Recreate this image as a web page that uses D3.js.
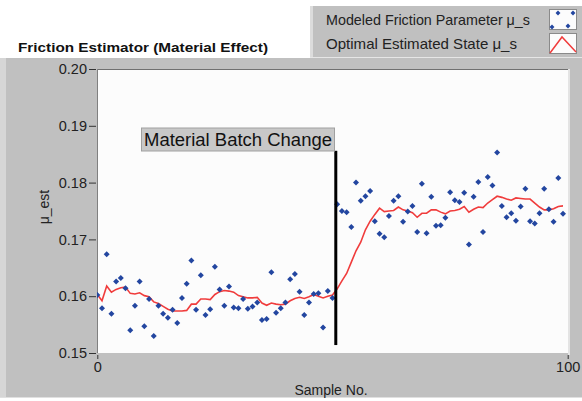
<!DOCTYPE html>
<html><head><meta charset="utf-8">
<script src="https://cdn.jsdelivr.net/npm/d3@7"></script>
<style>html,body{margin:0;padding:0;background:#fff;}svg{display:block;}</style>
</head><body>
<script>
// ---- data ----
const modeled = [
0.1602,0.1579,0.1674,0.1569,0.1626,0.1632,0.1614,0.1540,0.1583,0.1626,
0.1547,0.1595,0.1530,0.1583,0.1569,0.1562,0.1576,0.1553,0.1597,0.1622,
0.1663,0.1576,0.1637,0.1567,0.1577,0.1652,0.1612,0.1583,0.1617,0.1580,
0.1579,0.1595,0.1578,0.1582,0.1589,0.1558,0.1560,0.1642,0.1571,0.1579,
0.1589,0.1630,0.1639,0.1608,0.1567,0.1589,0.1604,0.1605,0.1545,0.1609,
0.1597,0.1762,0.1750,0.1748,0.1722,0.1800,0.1768,0.1776,0.1785,0.1732,
0.1710,0.1704,0.1741,0.1768,0.1776,0.1731,0.1749,0.1759,0.1713,0.1798,
0.1711,0.1775,0.1724,0.1725,0.1738,0.1783,0.1769,0.1766,0.1782,0.1691,
0.1775,0.1801,0.1713,0.1810,0.1795,0.1853,0.1759,0.1739,0.1746,0.1733,
0.1758,0.1789,0.1732,0.1728,0.1746,0.1789,0.1753,0.1731,0.1808,0.1745];
const estimated = [
0.1603,0.1592,0.1618,0.1607,0.1612,0.1615,0.1616,0.1605,0.1604,0.1606,
0.1601,0.1599,0.1590,0.1587,0.1582,0.1577,0.1574,0.1574,0.1574,0.1575,
0.1586,0.1586,0.1595,0.1595,0.1594,0.1603,0.1608,0.1610,0.1609,0.1607,
0.1601,0.1599,0.1597,0.1597,0.1598,0.1588,0.1584,0.1588,0.1586,0.1585,
0.1586,0.1592,0.1596,0.1598,0.1596,0.1599,0.1603,0.1600,0.1597,0.1600,
0.1602,0.1613,0.1627,0.1640,0.1660,0.1680,0.1695,0.1717,0.1732,0.1744,
0.1755,0.1749,0.1750,0.1751,0.1757,0.1752,0.1750,0.1747,0.1739,0.1746,
0.1746,0.1752,0.1752,0.1748,0.1745,0.1750,0.1751,0.1753,0.1758,0.1748,
0.1753,0.1757,0.1756,0.1764,0.1770,0.1776,0.1774,0.1771,0.1769,0.1773,
0.1772,0.1771,0.1771,0.1764,0.1757,0.1752,0.1752,0.1754,0.1758,0.1759];
const yTicks = [0.15,0.16,0.17,0.18,0.19,0.20];
const xTicks = [0,100];
const seriesNames = ["Modeled Friction Parameter \u03bc_s","Optimal Estimated State \u03bc_s"];
const annotation = {text:"Material Batch Change", x:50.7, y0:0.1514, y1:0.1856};

// ---- layout ----
const W=582,H=401;
const svg=d3.select("body").append("svg").attr("width",W).attr("height",H);
const font="Liberation Sans, Arial, sans-serif";
const gray="#c0c0c0";

// main panel
svg.append("rect").attr("x",0).attr("y",58).attr("width",582).attr("height",340).attr("fill",gray);
svg.append("rect").attr("x",0).attr("y",58).attr("width",6).attr("height",340).attr("fill","#d6d6d6");
svg.append("rect").attr("x",0).attr("y",397).attr("width",582).attr("height",1).attr("fill","#e0e0e0");
// legend panel
svg.append("rect").attr("x",310).attr("y",6).attr("width",272).attr("height",52).attr("fill",gray);
svg.append("rect").attr("x",310).attr("y",6).attr("width",3).attr("height",52).attr("fill","#dcdcdc");
svg.append("rect").attr("x",310).attr("y",57).attr("width",272).attr("height",1).attr("fill","#e6e6e6");

// title
svg.append("text").attr("x",18).attr("y",52).attr("font-family",font).attr("font-weight","bold")
  .attr("font-size",13.5).attr("fill","#111").attr("textLength",250).attr("lengthAdjust","spacingAndGlyphs")
  .text("Friction Estimator (Material Effect)");

const x=d3.scaleLinear().domain([0,100]).range([97.3,567.7]);
const y=d3.scaleLinear().domain([0.15,0.20]).range([353,69]);

// plot area
svg.append("rect").attr("x",97).attr("y",69).attr("width",471).attr("height",284).attr("fill","#fcfcfc");
svg.append("line").attr("x1",97).attr("x2",568).attr("y1",69.5).attr("y2",69.5).attr("stroke","#707070");
svg.append("line").attr("x1",97.5).attr("x2",97.5).attr("y1",69).attr("y2",353).attr("stroke","#808080");
svg.append("rect").attr("x",568).attr("y",69).attr("width",2).attr("height",286).attr("fill","#e4e4e4");

// axes
const yAxis=d3.axisLeft(y).tickValues(yTicks).tickFormat(d3.format(".2f")).tickSizeOuter(0).tickSize(7).tickPadding(2);
const gy=svg.append("g").attr("transform","translate(96,0)").call(yAxis);
gy.select(".domain").remove();
gy.selectAll("line").attr("stroke","#333");
gy.selectAll("text").attr("font-family",font).attr("font-size",14.5).attr("fill","#222");

const xAxis=d3.axisBottom(x).tickValues(xTicks).tickFormat(d3.format("d")).tickSizeOuter(0).tickSize(4).tickPadding(3);
const gx=svg.append("g").attr("transform","translate(0,355)").call(xAxis);
gx.select(".domain").remove();
gx.selectAll("line").attr("stroke","#333");
gx.selectAll("text").attr("font-family",font).attr("font-size",14.5).attr("fill","#222");

svg.append("text").attr("x",331).attr("y",395).attr("text-anchor","middle").attr("font-family",font)
  .attr("font-size",14).attr("fill","#222").text("Sample No.");
svg.append("text").attr("transform","translate(49,207) rotate(-90)").attr("text-anchor","middle")
  .attr("font-family",font).attr("font-size",14).attr("fill","#222").text("\u03bc_est");

// plot clip
svg.append("clipPath").attr("id","clip").append("rect").attr("x",97).attr("y",69).attr("width",471).attr("height",284);
const plot=svg.append("g").attr("clip-path","url(#clip)");

// red line
const line=d3.line().x((d,i)=>x(i)).y(d=>y(d));
plot.append("path").datum(estimated).attr("d",line).attr("fill","none").attr("stroke","#f03c3c").attr("stroke-width",1.6);

// markers
const sym=d3.symbol().type(d3.symbolSquare).size(18);
plot.selectAll(".pt").data(modeled).enter().append("path").attr("class","pt")
  .attr("d",sym).attr("transform",(d,i)=>`translate(${x(i)},${y(d)}) rotate(45)`).attr("fill","#2346a0");

// annotation
svg.append("line").attr("x1",x(annotation.x)).attr("x2",x(annotation.x)).attr("y1",y(annotation.y1)).attr("y2",y(annotation.y0))
  .attr("stroke","#000").attr("stroke-width",3);
svg.append("rect").attr("x",141.5).attr("y",128).attr("width",193).attr("height",23).attr("fill","#c8c8c8").attr("stroke","#a0a0a0").attr("stroke-width",1);
svg.append("text").attr("x",144).attr("y",146).attr("font-family",font).attr("font-size",17.5).attr("fill","#111")
  .attr("textLength",188).attr("lengthAdjust","spacingAndGlyphs").text(annotation.text);

// legend
const leg=svg.append("g");
const legWidths=[204,191];
seriesNames.forEach((n,k)=>{
  const cy=k===0?20:44;
  leg.append("text").attr("x",326).attr("y",cy+5).attr("font-family",font).attr("font-size",14.5).attr("fill","#222")
    .attr("textLength",legWidths[k]).attr("lengthAdjust","spacingAndGlyphs").text(n);
  leg.append("rect").attr("x",549.5).attr("y",cy-10.5).attr("width",27).attr("height",20).attr("fill","#fcfcfc").attr("stroke","#8a8a8a");
});
// legend swatch 1: diamonds
[[558,13],[573,13],[552,27],[568,26]].forEach(p=>{
  leg.append("path").attr("d",d3.symbol().type(d3.symbolSquare).size(12)).attr("transform",`translate(${p[0]},${p[1]}) rotate(45)`).attr("fill","#2346a0");
});
leg.append("path").attr("d",`M550,53 L562,37 L576,52`).attr("fill","none").attr("stroke","#f03c3c").attr("stroke-width",1.5);
</script>
</body></html>
